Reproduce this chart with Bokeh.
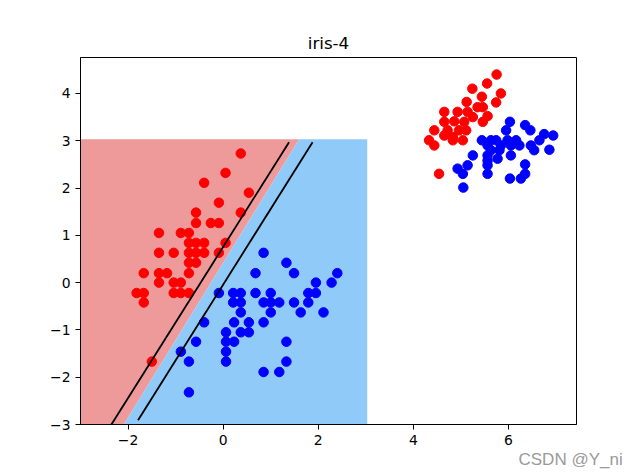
from bokeh.plotting import figure
from bokeh.models import Range1d, FixedTicker, Title
from bokeh.embed import file_html
from bokeh.resources import INLINE

# ---- data ----
title_text = "iris-4"
watermark_text = "CSDN @Y_ni"
x_ticks = [-2, 0, 2, 4, 6]
y_ticks = [-3, -2, -1, 0, 1, 2, 3, 4]

# class 0 (red) points
red_x = [0.37, 0.05, -0.40, 0.54, -0.09, -0.57, 0.37, -0.57, -0.26, -0.09,
         -1.35, -0.89, -0.72, -0.72, -0.57, -0.40, 0.05, -1.35, -1.04, -0.72,
         -0.57, -0.40, -0.09, -0.72, -0.57, -1.67, -1.35, -1.18, -0.72, -1.35,
         -1.04, -0.89, -1.82, -1.67, -1.04, -0.89, -0.72, -1.67, -1.50,
         5.75, 5.55, 5.24, 5.84, 5.44, 5.12, 5.74, 4.65, 4.93, 5.14,
         5.35, 5.46, 5.25, 5.56, 4.65, 4.86, 5.07, 5.46, 4.44, 4.72,
         4.96, 5.11, 4.65, 4.83, 4.33, 4.83, 5.04, 4.44, 4.54]
red_y = [2.73, 2.32, 2.11, 1.90, 1.69, 1.48, 1.48, 1.26, 1.26, 1.26,
         1.05, 1.05, 1.05, 0.84, 0.84, 0.84, 0.84, 0.63, 0.63, 0.63,
         0.63, 0.63, 0.63, 0.42, 0.42, 0.20, 0.20, 0.20, 0.20, 0.00,
         0.00, 0.00, -0.22, -0.22, -0.22, -0.22, -0.22, -0.42, -1.67,
         4.40, 4.21, 4.10, 4.00, 3.93, 3.82, 3.81, 3.61, 3.61, 3.61,
         3.71, 3.71, 3.50, 3.52, 3.40, 3.41, 3.40, 3.40, 3.22, 3.22,
         3.22, 3.22, 3.11, 3.08, 3.01, 3.01, 3.01, 2.90, 2.30]

# class 1 (blue) points
blue_x = [0.85, 1.33, 1.49, 0.68, 2.40, 1.95, 2.28, -0.09, 0.21, 0.37,
          0.68, 1.00, 1.79, 1.95, 0.21, 0.37, 0.85, 1.00, 1.18, 1.49,
          1.79, 0.37, 1.00, 1.63, 2.11, -0.40, 0.23, 0.54, 0.85, 0.06,
          0.37, 0.54, -0.57, 0.06, 0.23, 1.33, -0.89, 0.06, -0.72, 0.06,
          1.33, 0.85, 1.18, -0.72,
          6.03, 5.95, 6.35, 6.46, 6.75, 6.94, 5.44, 5.63, 5.74, 5.98,
          6.16, 6.65, 5.56, 5.84, 6.05, 6.23, 6.47, 5.63, 5.81, 6.05,
          6.54, 6.86, 5.56, 5.77, 5.56, 5.56, 5.25, 5.14, 4.93, 5.04,
          5.56, 6.35, 6.35, 6.26, 6.03, 5.05]
blue_y = [0.63, 0.42, 0.20, 0.20, 0.20, 0.00, 0.00, -0.22, -0.22, -0.22,
          -0.22, -0.22, -0.22, -0.22, -0.42, -0.42, -0.42, -0.42, -0.42, -0.42,
          -0.42, -0.63, -0.63, -0.63, -0.63, -0.84, -0.84, -0.84, -0.84, -1.05,
          -1.05, -1.05, -1.25, -1.25, -1.25, -1.25, -1.46, -1.46, -1.67, -1.67,
          -1.67, -1.89, -1.89, -2.32,
          3.40, 3.22, 3.33, 3.22, 3.14, 3.11, 3.01, 3.01, 3.01, 3.01,
          3.01, 3.01, 2.90, 2.90, 2.90, 2.90, 2.90, 2.80, 2.80, 2.69,
          2.80, 2.81, 2.69, 2.62, 2.58, 2.48, 2.69, 2.48, 2.41, 2.30,
          2.30, 2.50, 2.30, 2.20, 2.20, 2.01]

# decision-region grid bounds and boundary
grid_min = -3.0
grid_max = 3.03
boundary_x = [-2.09, 1.60]   # at y = grid_min, y = grid_max
# the two black lines (endpoints)
line1_x = [-2.35, 1.385]
line1_y = [-3.0, 2.97]
line2_x = [-1.79, 1.88]
line2_y = [-2.91, 2.97]

# ---- figure ----
p = figure(width=640, height=476, output_backend="svg", toolbar_location=None,
           x_range=Range1d(-3.0, 7.43), y_range=Range1d(-3.0, 4.76),
           min_border_left=80, min_border_right=64, min_border_top=57,
           min_border_bottom=52)
p.title.text = title_text
p.title.align = "center"
p.title.text_font = "DejaVu Sans"
p.title.text_font_size = "16.7px"
p.title.text_font_style = "normal"
p.title.text_color = "black"
p.grid.visible = False
p.outline_line_color = "black"
p.outline_line_width = 1
p.background_fill_color = "white"
p.border_fill_color = "white"

# regions
p.patch([grid_min, boundary_x[0], boundary_x[1], grid_min],
        [grid_min, grid_min, grid_max, grid_max],
        fill_color="#EF9A9A", line_color=None)
p.patch([boundary_x[0], grid_max, grid_max, boundary_x[1]],
        [grid_min, grid_min, grid_max, grid_max],
        fill_color="#90CAF9", line_color=None)

# points
p.scatter(red_x, red_y, size=9.5, fill_color="#FF0000", line_color="#FF0000")
p.scatter(blue_x, blue_y, size=9.5, fill_color="#0000FF", line_color="#0000FF")

# lines
p.line(line1_x, line1_y, line_color="black", line_width=1.8)
p.line(line2_x, line2_y, line_color="black", line_width=1.8)

for ax, ticks in ((p.xaxis, x_ticks), (p.yaxis, y_ticks)):
    ax.ticker = FixedTicker(ticks=ticks)
    ax.major_tick_in = 0
    ax.major_tick_out = 5
    ax.minor_tick_line_color = None
    ax.axis_line_color = "black"
    ax.major_label_text_font = "DejaVu Sans"
    ax.major_label_text_font_size = "13.9px"
    ax.major_label_text_color = "black"

wm = Title(text=watermark_text, align="left", offset=438,
           text_font="Liberation Sans", text_font_size="17px",
           text_font_style="normal", text_color="#9a9a9a", standoff=0)
p.add_layout(wm, "below")

open("out.html", "w").write(file_html(p, INLINE))
